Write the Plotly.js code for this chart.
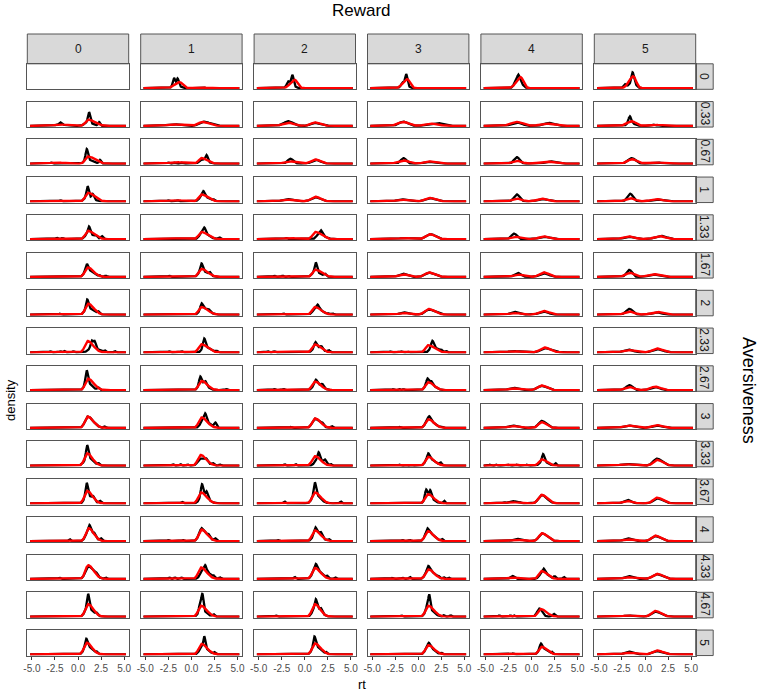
<!DOCTYPE html>
<html>
<head>
<meta charset="utf-8">
<script src="https://cdn.plot.ly/plotly-3.0.1.min.js"></script>
<style>html,body{margin:0;padding:0;background:#fff;}#plot{width:760px;height:699px;}</style>
</head>
<body>
<div id="plot"></div>
<script>
// Facet levels
const rewardLevels = ['0','1','2','3','4','5'];
const aversivenessLevels = ['0','0.33','0.67','1','1.33','1.67','2','2.33','2.67','3','3.33','3.67','4','4.33','4.67','5'];
const xTickValues = [-5, -2.5, 0, 2.5, 5];
const xTickLabels = ['-5.0','-2.5','0.0','2.5','5.0'];

// Density curves, as peaks: [rt position, density height, left spread, right spread]
// observed (black), one list per panel, rows = aversiveness, columns = reward
const observedPeaks = [
 [[],
  [[-1.9,.35,.12,.12],[-1.5,.3,.12,.12],[-1.6,.12,.4,.4],[1.1,.04,.3,.3],[3.1,.02,.1,.1]],
  [[-1.35,.42,.12,.12],[-1.8,.2,.15,.15],[-1.4,.15,.4,.3],[2.4,.03,.1,.1]],
  [[-1.3,.45,.12,.12],[-1.7,.15,.15,.15],[-1.35,.15,.4,.3],[2.8,.03,.1,.1]],
  [[-1.45,.3,.12,.12],[-1.8,.12,.15,.15],[-1.3,.3,.4,.3],[1.3,.03,.1,.1],[2.7,.02,.1,.1]],
  [[-1.35,.4,.12,.12],[-2.2,.15,.15,.15],[-1.3,.28,.4,.3],[0.8,.02,.1,.1],[2.7,.02,.1,.1]]],
 [[[1.2,.45,.12,.12],[1.0,.15,.3,.6],[2.3,.15,.1,.1],[-1.9,.1,.12,.12],[-1.9,.05,.6,.6]],
  [[1.3,.18,.45,.8],[-1.95,.07,.7,.7]],
  [[-1.8,.2,.5,.5],[1.1,.13,.45,.6]],
  [[-1.6,.18,.5,.5],[2.2,.12,.5,.5],[1.0,.07,.4,.4]],
  [[-1.6,.15,.55,.55],[1.9,.13,.55,.6]],
  [[-1.65,.3,.15,.15],[-1.5,.12,.4,.4],[0.9,.06,.15,.15],[1.4,.04,.15,.15]]],
 [[[0.95,.45,.12,.12],[1.0,.18,.3,.6],[2.4,.15,.1,.1],[-2.9,.05,.1,.1]],
  [[1.65,.25,.12,.12],[1.2,.18,.3,.5],[-2.5,.05,.1,.1],[-1.8,.04,.1,.1],[-1.0,.04,.1,.1]],
  [[-1.55,.21,.3,.3],[1.2,.16,.45,.5]],
  [[-1.6,.24,.3,.3],[1.1,.08,.45,.5]],
  [[-1.6,.28,.3,.3],[2.0,.1,.5,.5]],
  [[-1.45,.24,.4,.4],[1.2,.05,.6,.6]]],
 [[[1.05,.45,.12,.12],[1.6,.2,.12,.12],[1.0,.2,.3,.6],[-1.9,.05,.1,.1]],
  [[1.3,.2,.12,.12],[1.2,.25,.3,.6],[2.4,.06,.12,.12],[-2.5,.05,.1,.1],[-1.5,.05,.1,.1]],
  [[-1.9,.1,.5,.5],[1.15,.18,.45,.55]],
  [[-1.8,.09,.5,.5],[1.3,.14,.5,.6]],
  [[-1.6,.3,.3,.3],[1.1,.1,.5,.5]],
  [[-1.6,.33,.3,.3],[1.3,.08,.5,.5]]],
 [[[1.2,.3,.12,.12],[1.1,.25,.3,.6],[1.95,.08,.12,.12],[2.6,.12,.12,.12],[-2.3,.06,.1,.1],[-1.7,.05,.1,.1]],
  [[1.4,.22,.12,.12],[1.2,.3,.3,.6],[3.0,.08,.12,.12]],
  [[1.75,.2,.15,.15],[1.5,.2,.25,.6],[-2.0,.05,.1,.1]],
  [[1.3,.22,.45,.55],[-1.4,.05,.6,.6]],
  [[-1.9,.24,.3,.3],[1.3,.1,.5,.5]],
  [[-1.8,.1,.5,.5],[1.7,.14,.6,.6]]],
 [[[0.95,.25,.12,.12],[1.0,.32,.3,.6],[2.3,.05,.12,.12],[3.0,.05,.12,.12]],
  [[1.1,.3,.12,.12],[2.0,.12,.12,.12],[1.1,.28,.3,.6],[-2.4,.05,.1,.1]],
  [[1.2,.4,.12,.12],[1.1,.22,.3,.6],[2.2,.1,.12,.12],[-3.3,.05,.1,.1],[-2.4,.05,.1,.1],[-1.8,.05,.1,.1]],
  [[-1.65,.14,.4,.4],[1.2,.18,.45,.6]],
  [[-1.5,.17,.35,.35],[1.3,.15,.45,.55]],
  [[-1.7,.3,.3,.3],[0.9,.1,.5,.5]]],
 [[[1.0,.36,.12,.12],[1.05,.3,.3,.6],[2.2,.1,.12,.12],[-1.95,.04,.1,.1]],
  [[1.1,.2,.12,.12],[1.2,.3,.3,.6],[1.9,.08,.12,.12]],
  [[1.4,.15,.15,.15],[1.2,.3,.3,.6],[2.5,.05,.12,.12],[3.0,.05,.12,.12],[-2.3,.05,.1,.1]],
  [[-1.6,.1,.4,.4],[1.15,.22,.4,.7]],
  [[-1.9,.12,.4,.4],[1.3,.13,.5,.5]],
  [[-1.7,.25,.35,.35],[1.3,.1,.5,.5]]],
 [[[1.5,.3,.12,.12],[1.8,.3,.12,.12],[1.5,.2,.35,.7],[2.9,.06,.1,.1],[4.0,.05,.1,.1],[-3.0,.05,.1,.1],[-1.5,.06,.1,.1],[-0.5,.05,.1,.1],[-1.9,.05,.1,.1]],
  [[1.4,.35,.12,.12],[1.4,.25,.25,.6],[2.7,.06,.12,.12],[-2.4,.05,.1,.1],[-1.05,.05,.1,.1]],
  [[1.15,.2,.12,.12],[1.8,.12,.12,.12],[1.2,.25,.3,.6],[2.6,.08,.12,.12],[-4.0,.05,.1,.1],[-3.3,.05,.1,.1]],
  [[1.55,.25,.12,.12],[1.5,.25,.25,.6],[2.5,.06,.1,.1],[3.0,.06,.1,.1],[-3.0,.04,.1,.1],[-1.8,.04,.1,.1],[-1.2,.04,.1,.1]],
  [[-1.9,.06,.6,.6],[1.45,.18,.45,.7]],
  [[-1.8,.12,.5,.5],[1.3,.14,.5,.6]]],
 [[[0.95,.5,.12,.12],[0.95,.35,.25,.5],[2.2,.1,.12,.12]],
  [[0.95,.3,.12,.12],[1.5,.15,.12,.12],[1.1,.32,.3,.55],[3.8,.05,.1,.1]],
  [[1.2,.15,.12,.12],[1.9,.12,.12,.12],[1.2,.3,.3,.6],[-3.3,.05,.1,.1],[-2.3,.05,.1,.1]],
  [[1.0,.2,.12,.12],[1.4,.12,.12,.12],[1.1,.32,.3,.6],[-2.7,.04,.1,.1],[-2.0,.04,.1,.1],[-1.6,.04,.1,.1]],
  [[-2.0,.1,.45,.45],[1.1,.18,.45,.6]],
  [[-1.7,.22,.35,.35],[1.1,.13,.5,.5]]],
 [[[1.05,.49,.3,.6],[2.9,.06,.1,.1]],
  [[1.5,.3,.12,.12],[2.6,.2,.12,.12],[1.3,.35,.3,.6]],
  [[1.1,.4,.3,.55],[1.9,.1,.12,.12],[2.9,.08,.12,.12],[-1.5,.04,.1,.1]],
  [[1.2,.15,.12,.12],[1.1,.36,.3,.6],[2.5,.05,.12,.12],[-2.0,.04,.1,.1]],
  [[-2.1,.1,.45,.45],[1.1,.3,.35,.5]],
  [[-1.8,.1,.5,.5],[1.3,.1,.5,.6]]],
 [[[1.0,.5,.12,.12],[1.0,.38,.28,.55],[0.4,.06,.1,.1],[2.2,.08,.12,.12]],
  [[1.0,.3,.3,.55],[1.6,.15,.15,.15],[2.3,.1,.15,.15],[-2.0,.06,.1,.1],[-1.2,.06,.1,.1],[-0.4,.05,.1,.1],[3.1,.05,.1,.1]],
  [[1.5,.3,.12,.12],[2.2,.15,.12,.12],[1.4,.28,.3,.6],[2.8,.06,.1,.1],[-2.2,.06,.1,.1],[-1.0,.06,.1,.1]],
  [[1.1,.2,.12,.12],[1.1,.33,.3,.6],[2.4,.12,.12,.12],[-2.0,.04,.1,.1],[-1.4,.04,.1,.1],[-0.8,.04,.1,.1]],
  [[1.25,.3,.12,.12],[1.2,.2,.3,.5],[2.6,.1,.1,.1],[-4.5,.04,.1,.1],[-3.8,.04,.1,.1],[-2.5,.04,.1,.1],[-1.6,.04,.1,.1],[-0.5,.04,.1,.1]],
  [[1.3,.3,.4,.55],[-2.0,.07,.6,.6]]],
 [[[0.95,.5,.12,.12],[0.95,.38,.25,.55],[1.65,.15,.12,.12],[2.4,.1,.12,.12]],
  [[1.15,.45,.12,.12],[1.65,.25,.12,.12],[1.2,.38,.3,.55],[-1.0,.07,.1,.1]],
  [[1.1,.5,.12,.12],[1.1,.4,.3,.55],[-2.2,.08,.1,.1],[3.9,.08,.1,.1]],
  [[0.85,.35,.12,.12],[1.3,.3,.12,.12],[1.05,.3,.3,.55],[2.8,.12,.1,.1],[-1.5,.03,.1,.1]],
  [[-2.1,.1,.4,.4],[1.1,.36,.35,.55],[-3.0,.04,.1,.1],[-1.2,.04,.1,.1]],
  [[-1.9,.15,.4,.4],[1.3,.22,.4,.6]]],
 [[[1.25,.25,.12,.12],[1.75,.12,.12,.12],[1.15,.45,.3,.55],[2.5,.1,.12,.12],[-0.9,.08,.1,.1]],
  [[1.1,.1,.12,.12],[1.85,.1,.12,.12],[1.1,.46,.3,.6],[2.6,.1,.12,.12],[-2.5,.05,.1,.1],[-0.9,.05,.1,.1]],
  [[1.15,.2,.12,.12],[1.75,.15,.12,.12],[1.2,.4,.3,.55],[2.6,.08,.1,.1],[-2.9,.05,.1,.1]],
  [[1.0,.15,.12,.12],[1.05,.41,.3,.6],[2.6,.08,.1,.1],[-1.7,.05,.1,.1],[-0.9,.05,.1,.1]],
  [[-1.6,.1,.4,.4],[1.15,.33,.35,.55]],
  [[-1.9,.12,.4,.4],[1.1,.22,.4,.6]]],
 [[[1.1,.55,.3,.6],[2.0,.1,.12,.12],[3.0,.06,.1,.1],[-2.0,.05,.1,.1]],
  [[1.5,.2,.12,.12],[1.3,.42,.3,.6],[2.4,.08,.1,.1],[3.1,.06,.1,.1],[-2.4,.06,.1,.1],[-1.8,.06,.1,.1],[-1.1,.06,.1,.1]],
  [[1.2,.2,.12,.12],[1.15,.45,.3,.6],[2.4,.1,.12,.12],[3.3,.06,.1,.1],[-1.1,.08,.12,.12]],
  [[1.1,.16,.12,.12],[1.1,.4,.3,.6],[2.2,.06,.1,.1],[2.8,.06,.1,.1],[3.3,.06,.1,.1],[-2.8,.04,.1,.1],[-1.7,.05,.1,.1],[-0.9,.08,.1,.1]],
  [[1.3,.15,.12,.12],[1.2,.3,.3,.55],[2.5,.1,.12,.12],[3.5,.08,.1,.1],[-2.1,.13,.2,.2]],
  [[-1.8,.12,.4,.4],[1.3,.2,.45,.6]]],
 [[[1.1,.6,.12,.12],[1.05,.38,.3,.55],[2.0,.1,.12,.12]],
  [[1.2,.65,.1,.1],[0.95,.35,.12,.12],[1.1,.3,.3,.5],[2.4,.1,.12,.12]],
  [[1.2,.35,.12,.12],[1.75,.15,.12,.12],[1.15,.4,.3,.55],[-3.1,.05,.1,.1]],
  [[1.2,.6,.1,.1],[0.95,.15,.12,.12],[1.1,.35,.3,.55],[2.8,.06,.1,.1],[3.5,.06,.1,.1],[-1.8,.05,.1,.1]],
  [[0.85,.35,.25,.3],[2.4,.12,.15,.15],[-3.5,.05,.1,.1],[-2.3,.05,.1,.1],[-1.9,.05,.1,.1]],
  [[-1.8,.05,.5,.5],[1.1,.22,.4,.6]]],
 [[[0.9,.3,.12,.12],[0.95,.38,.3,.55],[2.0,.08,.12,.12]],
  [[1.4,.45,.1,.1],[1.2,.35,.3,.55],[2.5,.08,.1,.1]],
  [[1.05,.4,.12,.12],[1.1,.38,.3,.55],[2.3,.08,.1,.1]],
  [[1.15,.15,.12,.12],[1.1,.35,.3,.55],[2.5,.06,.1,.1]],
  [[1.0,.2,.12,.12],[1.1,.28,.3,.55],[2.2,.08,.1,.1],[-2.0,.04,.1,.1]],
  [[-1.8,.12,.4,.4],[1.3,.14,.45,.6]]]
];

// predicted (red)
const predictedPeaks = [
 [[], [[-1.3,.26,.5,.35],[1.1,.03,.5,.5]], [[-1.1,.36,.45,.3]], [[-1.2,.39,.45,.3]], [[-1.2,.48,.45,.3]], [[-1.27,.51,.45,.3]]],
 [[[1.1,.27,.3,.7],[-1.9,.06,.7,.7]], [[1.2,.17,.45,.7],[-1.9,.06,.8,.8]], [[-1.8,.14,.6,.6],[1.1,.15,.45,.6]], [[-1.6,.17,.6,.6],[1.3,.1,.6,.8]], [[-1.6,.17,.65,.65],[1.6,.1,.7,.7]], [[-1.45,.2,.5,.45],[1.1,.05,.6,.6]]],
 [[[1.1,.31,.3,.7],[-2.3,.05,.7,.7]], [[1.1,.24,.3,.6],[-1.6,.06,.8,.8]], [[-1.6,.1,.6,.6],[1.15,.18,.45,.55]], [[-1.6,.14,.6,.6],[1.1,.1,.5,.6]], [[-1.6,.12,.5,.5],[1.6,.09,.7,.7]], [[-1.4,.19,.5,.5],[1.1,.05,.8,.8]]],
 [[[1.1,.37,.3,.65]], [[1.1,.3,.3,.65],[-1.6,.05,.8,.8]], [[-1.9,.08,.6,.6],[1.15,.2,.45,.55]], [[-1.8,.07,.6,.6],[1.3,.15,.5,.6]], [[-1.6,.12,.5,.5],[1.1,.12,.5,.6]], [[-1.6,.14,.5,.5],[1.3,.1,.6,.6]]],
 [[[1.1,.36,.3,.65],[-2.0,.03,.6,.6]], [[1.1,.31,.3,.65],[-1.2,.04,.8,.8]], [[1.15,.31,.3,.65],[-1.6,.05,.7,.7]], [[1.3,.21,.45,.55],[-1.4,.05,.7,.7]], [[-1.8,.1,.5,.5],[1.3,.12,.5,.6]], [[-1.8,.12,.6,.6],[1.6,.13,.6,.6]]],
 [[[1.05,.41,.3,.6]], [[1.1,.34,.3,.65]], [[1.15,.31,.3,.65],[-2.2,.03,.8,.8]], [[-1.65,.11,.5,.5],[1.2,.19,.45,.6]], [[-1.5,.1,.5,.5],[1.3,.2,.45,.55]], [[-1.6,.17,.5,.5],[0.9,.12,.6,.6]]],
 [[[1.1,.47,.3,.6]], [[1.1,.33,.3,.65]], [[1.1,.33,.3,.65]], [[-1.6,.07,.5,.5],[1.1,.25,.4,.65]], [[-1.9,.07,.5,.5],[1.3,.16,.5,.6]], [[-1.7,.14,.5,.5],[1.3,.12,.6,.6]]],
 [[[1.05,.49,.3,.6]], [[1.1,.35,.3,.65]], [[1.1,.34,.3,.6],[-1.1,.04,.8,.8]], [[1.1,.31,.3,.65],[-1.5,.03,.8,.8]], [[-1.9,.05,.7,.7],[1.4,.21,.45,.6]], [[-1.8,.1,.6,.6],[1.3,.17,.5,.6]]],
 [[[1.1,.49,.3,.6]], [[1.1,.4,.3,.6]], [[1.1,.37,.3,.6]], [[1.1,.34,.3,.6]], [[-2.0,.07,.55,.55],[1.1,.2,.45,.55]], [[-1.7,.14,.5,.5],[1.1,.15,.5,.6]]],
 [[[1.05,.49,.3,.6]], [[1.1,.45,.3,.6]], [[1.1,.41,.3,.6]], [[1.1,.37,.3,.6]], [[-2.1,.08,.5,.5],[1.1,.25,.35,.5]], [[-1.8,.1,.6,.6],[1.3,.12,.5,.6]]],
 [[[1.0,.53,.3,.55]], [[1.0,.46,.3,.6]], [[1.1,.41,.3,.6]], [[1.1,.38,.3,.6]], [[1.1,.27,.3,.55],[-2.2,.04,.9,.9]], [[1.3,.25,.4,.6],[-2.0,.06,.7,.7]]],
 [[[1.0,.54,.3,.55]], [[1.05,.47,.3,.6]], [[1.1,.47,.3,.6]], [[1.05,.4,.3,.6]], [[-2.1,.05,.55,.55],[1.1,.37,.35,.55]], [[-1.9,.1,.55,.55],[1.3,.25,.4,.6]]],
 [[[1.15,.56,.3,.55]], [[1.1,.5,.3,.6]], [[1.1,.46,.3,.6]], [[1.05,.43,.3,.6]], [[-1.6,.06,.55,.55],[1.15,.34,.35,.55]], [[-1.9,.08,.55,.55],[1.1,.24,.4,.6]]],
 [[[1.1,.59,.3,.6]], [[1.05,.49,.3,.6]], [[1.1,.47,.3,.6]], [[1.1,.41,.3,.6]], [[1.1,.34,.3,.55],[-2.1,.06,.55,.55]], [[-1.8,.07,.55,.55],[1.3,.22,.45,.6]]],
 [[[1.1,.54,.3,.55]], [[1.05,.47,.3,.6]], [[1.1,.54,.3,.55]], [[1.1,.47,.3,.6]], [[1.0,.33,.3,.6]], [[-1.8,.05,.6,.6],[1.1,.25,.4,.6]]],
 [[[0.95,.5,.3,.55]], [[1.1,.45,.3,.6]], [[1.1,.47,.3,.6]], [[1.1,.4,.3,.6]], [[1.1,.33,.3,.55]], [[-1.8,.07,.55,.55],[1.3,.17,.45,.6]]]
];

// ---- drawing ----
const W = 760, H = 699;
const colLeft0 = 27.3, colPitch = 113.4, panelW = 101.4;
const rowTop0 = 63.8, rowPitch = 37.75, panelH = 25.5;
const stripTop = 34;
const rightStripW = 17.5;

function curveFromPeaks(peaks) {
  const xs = [], ys = [];
  for (let i = 0; i <= 416; i++) {
    const x = -5.2 + i * 0.025;
    let y = 0;
    for (const p of peaks) {
      const w = x < p[0] ? p[2] : p[3];
      const z = (x - p[0]) / w;
      y += p[1] * Math.exp(-0.5 * z * z);
    }
    xs.push(x); ys.push(y);
  }
  return {xs, ys};
}

const traces = [];
const layout = {
  width: W, height: H,
  margin: {l: 0, r: 0, t: 0, b: 0},
  paper_bgcolor: '#ffffff', plot_bgcolor: '#ffffff',
  showlegend: false,
  font: {family: 'Liberation Sans, Arial, sans-serif', color: '#1a1a1a'},
  shapes: [], annotations: []
};

const px = v => v / W;
const py = v => 1 - v / H;

for (let r = 0; r < aversivenessLevels.length; r++) {
  for (let c = 0; c < rewardLevels.length; c++) {
    const n = r * rewardLevels.length + c + 1;
    const xa = n === 1 ? 'xaxis' : 'xaxis' + n;
    const ya = n === 1 ? 'yaxis' : 'yaxis' + n;
    const xr = n === 1 ? 'x' : 'x' + n;
    const yr = n === 1 ? 'y' : 'y' + n;
    const left = colLeft0 + c * colPitch;
    const top = rowTop0 + r * rowPitch;
    const bottom = top + panelH;
    const isBottom = r === aversivenessLevels.length - 1;
    layout[xa] = {
      domain: [px(left), px(left + panelW)], anchor: yr,
      range: [-5.5, 5.5], showgrid: false, zeroline: false,
      showline: true, mirror: true, linecolor: '#555555', linewidth: 1,
      tickvals: xTickValues, ticktext: xTickLabels,
      showticklabels: isBottom, ticks: isBottom ? 'outside' : '',
      ticklen: 3, tickcolor: '#333333', tickwidth: 1,
      tickfont: {size: 10, color: '#4d4d4d', family: 'Liberation Sans, Arial, sans-serif'},
      fixedrange: true
    };
    layout[ya] = {
      domain: [py(bottom), py(top)], anchor: xr,
      range: [-0.05, 1.05], showgrid: false, zeroline: false,
      showline: true, mirror: true, linecolor: '#555555', linewidth: 1,
      showticklabels: false, ticks: '', fixedrange: true
    };
    const ob = observedPeaks[r][c], pr = predictedPeaks[r][c];
    if (!ob.length && !pr.length) {
      // empty panel: keep its frame
      traces.push({type: 'scatter', mode: 'lines', x: [null], y: [null], xaxis: xr, yaxis: yr, hoverinfo: 'skip'});
    }
    if (ob.length) {
      const k = curveFromPeaks(ob);
      traces.push({type: 'scatter', mode: 'lines', x: k.xs, y: k.ys, xaxis: xr, yaxis: yr,
        line: {color: '#000000', width: 2.3}, hoverinfo: 'skip'});
    }
    if (pr.length) {
      const k = curveFromPeaks(pr);
      traces.push({type: 'scatter', mode: 'lines', x: k.xs, y: k.ys, xaxis: xr, yaxis: yr,
        line: {color: '#ff0000', width: 2.4}, hoverinfo: 'skip'});
    }
  }
}

// top strips (Reward)
for (let c = 0; c < rewardLevels.length; c++) {
  const left = colLeft0 + c * colPitch;
  layout.shapes.push({type: 'rect', xref: 'paper', yref: 'paper',
    x0: px(left), x1: px(left + panelW), y0: py(rowTop0), y1: py(stripTop),
    fillcolor: '#d9d9d9', line: {color: '#555555', width: 1}, layer: 'below'});
  layout.annotations.push({xref: 'paper', yref: 'paper', x: px(left + panelW / 2), y: py((stripTop + rowTop0) / 2),
    text: rewardLevels[c], showarrow: false, xanchor: 'center', yanchor: 'middle',
    font: {size: 12, color: '#1a1a1a'}});
}
// right strips (Aversiveness)
const stripX0 = colLeft0 + 5 * colPitch + panelW;
for (let r = 0; r < aversivenessLevels.length; r++) {
  const top = rowTop0 + r * rowPitch;
  layout.shapes.push({type: 'rect', xref: 'paper', yref: 'paper',
    x0: px(stripX0), x1: px(stripX0 + rightStripW), y0: py(top + panelH), y1: py(top),
    fillcolor: '#d9d9d9', line: {color: '#555555', width: 1}, layer: 'below'});
  layout.annotations.push({xref: 'paper', yref: 'paper', x: px(stripX0 + rightStripW / 2), y: py(top + panelH / 2),
    text: aversivenessLevels[r], showarrow: false, textangle: 90, xanchor: 'center', yanchor: 'middle',
    font: {size: 12, color: '#1a1a1a'}});
}

// titles
layout.annotations.push({xref: 'paper', yref: 'paper', x: px(361.5), y: py(11), text: 'Reward',
  showarrow: false, xanchor: 'center', yanchor: 'middle', font: {size: 17, color: '#000000'}});
layout.annotations.push({xref: 'paper', yref: 'paper', x: px(749), y: py(390), text: 'Aversiveness',
  showarrow: false, textangle: 90, xanchor: 'center', yanchor: 'middle', font: {size: 18, color: '#000000'}});
layout.annotations.push({xref: 'paper', yref: 'paper', x: px(10), y: py(400), text: 'density',
  showarrow: false, textangle: -90, xanchor: 'center', yanchor: 'middle', font: {size: 13, color: '#000000'}});
layout.annotations.push({xref: 'paper', yref: 'paper', x: px(361.5), y: py(684), text: 'rt',
  showarrow: false, xanchor: 'center', yanchor: 'middle', font: {size: 13, color: '#000000'}});

Plotly.newPlot('plot', traces, layout, {displayModeBar: false, staticPlot: true});
</script>
</body>
</html>
